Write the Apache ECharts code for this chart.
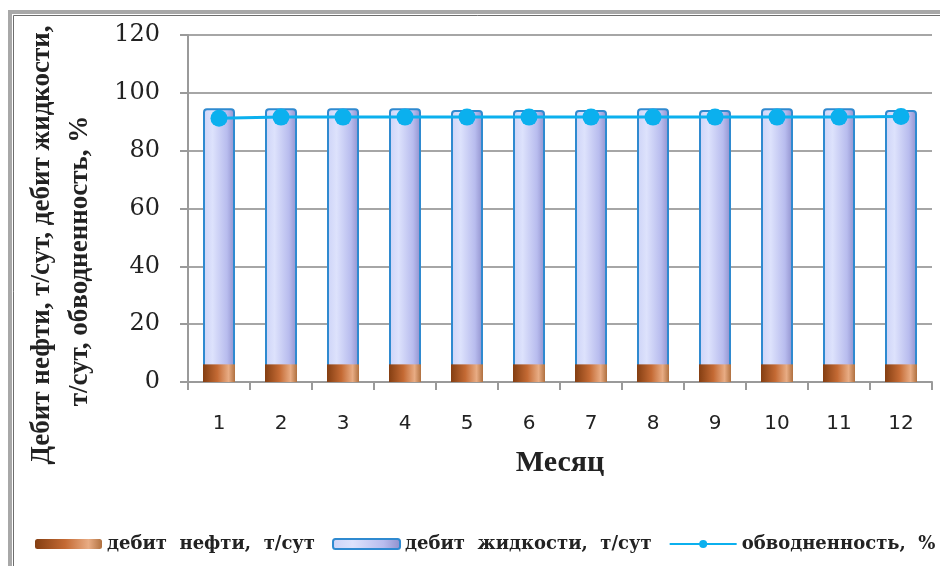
<!DOCTYPE html>
<html>
<head>
<meta charset="utf-8">
<script src="https://cdn.jsdelivr.net/npm/echarts@6/dist/echarts.min.js"></script>
<style>
  html, body { margin: 0; padding: 0; background: #fff; }
  #chart { width: 940px; height: 566px; }
</style>
</head>
<body>
<div id="chart"></div>
<script>
// данные по месяцам
var months = ['1', '2', '3', '4', '5', '6', '7', '8', '9', '10', '11', '12'];
var oilRate = [6.1, 6.1, 6.1, 6.1, 6.1, 6.1, 6.1, 6.1, 6.1, 6.1, 6.1, 6.1];           // дебит нефти
var liquidRate = [94.7, 94.7, 94.7, 94.7, 94.1, 94.1, 94.1, 94.7, 94.1, 94.7, 94.7, 94.1]; // дебит жидкости
var waterCut = [91.2, 91.6, 91.6, 91.6, 91.6, 91.6, 91.6, 91.6, 91.6, 91.6, 91.6, 91.8];  // обводненность
var yTicks = [0, 20, 40, 60, 80, 100, 120];

var myChart = echarts.init(document.getElementById('chart'));

var oilColor = new echarts.graphic.LinearGradient(0, 0, 1, 0, [
    {offset: 0, color: '#843e12'},
    {offset: 0.45, color: '#c46a34'},
    {offset: 0.8, color: '#e8ac84'},
    {offset: 1, color: '#b0703f'}
]);
var liquidColor = new echarts.graphic.LinearGradient(0, 0, 1, 0, [
    {offset: 0, color: '#cdd3f7'},
    {offset: 0.3, color: '#dde2fc'},
    {offset: 0.75, color: '#b8bcee'},
    {offset: 1, color: '#8f8fcc'}
]);

var titleFont = 'bold 27px "Liberation Serif"';

var option = {
    backgroundColor: '#fff',
    animation: false,
    grid: {
        left: 188,
        right: 8,
        top: 35,
        bottom: 184
    },
    graphic: [
        {
            type: 'rect',
            shape: {x: 10, y: 12, width: 960, height: 600},
            style: {fill: 'none', stroke: '#a8a8a8', lineWidth: 4}
        },
        {
            type: 'rect',
            shape: {x: 13.5, y: 15.5, width: 960, height: 600},
            style: {fill: 'none', stroke: '#6e6e6e', lineWidth: 1}
        },
        {
            type: 'text',
            x: 42,
            y: 245,
            rotation: Math.PI / 2,
            style: {
                text: 'Дебит нефти, т/сут, дебит жидкости,',
                font: titleFont,
                fill: '#222',
                align: 'center',
                verticalAlign: 'middle'
            }
        },
        {
            type: 'text',
            x: 80,
            y: 261,
            rotation: Math.PI / 2,
            style: {
                text: 'т/сут, обводненность, %',
                font: titleFont,
                fill: '#222',
                align: 'center',
                verticalAlign: 'middle'
            }
        }
    ],
    legend: {
        top: 530,
        left: 30,
        width: 1200,
        itemWidth: 67,
        itemHeight: 10,
        itemGap: 17,
        textStyle: {
            fontFamily: 'DejaVu Serif',
            fontWeight: 'bold',
            fontSize: 18,
            color: '#222'
        },
        data: [
            {name: 'дебит  нефти,  т/сут', icon: 'roundRect'},
            {name: 'дебит  жидкости,  т/сут', icon: 'roundRect'},
            {name: 'обводненность,  %'}
        ]
    },
    xAxis: {
        type: 'category',
        data: months,
        name: 'Месяц',
        nameLocation: 'middle',
        nameGap: 66,
        nameTextStyle: {
            fontFamily: 'Liberation Serif',
            fontWeight: 'bold',
            fontSize: 30,
            color: '#222'
        },
        axisLine: {lineStyle: {color: '#9a9a9a', width: 2}},
        axisTick: {show: true, length: 8, lineStyle: {color: '#9a9a9a', width: 2}},
        axisLabel: {
            margin: 32,
            fontFamily: 'DejaVu Sans',
            fontSize: 20,
            color: '#222'
        }
    },
    yAxis: {
        type: 'value',
        min: 0,
        max: 120,
        interval: 20,
        axisLine: {show: true, lineStyle: {color: '#9a9a9a', width: 2}},
        axisTick: {show: true, length: 8, lineStyle: {color: '#9a9a9a', width: 2}},
        splitLine: {lineStyle: {color: '#a6a6a6', width: 2}},
        axisLabel: {
            margin: 28,
            fontFamily: 'DejaVu Serif',
            fontSize: 24,
            color: '#222',
            formatter: function (v) { return yTicks.indexOf(v) >= 0 ? String(v) : ''; }
        }
    },
    series: [
        {
            name: 'дебит  жидкости,  т/сут',
            type: 'bar',
            data: liquidRate,
            barWidth: 32,
            barGap: '-100%',
            itemStyle: {
                color: liquidColor,
                borderColor: '#2f8ad0',
                borderWidth: 2,
                borderRadius: [3, 3, 0, 0]
            },
            z: 2
        },
        {
            name: 'дебит  нефти,  т/сут',
            type: 'bar',
            data: oilRate,
            barWidth: 32,
            barGap: '-100%',
            itemStyle: {
                color: oilColor
            },
            z: 3
        },
        {
            name: 'обводненность,  %',
            type: 'line',
            data: waterCut,
            symbol: 'circle',
            symbolSize: 17,
            lineStyle: {color: '#0bb0ee', width: 3},
            itemStyle: {color: '#0bb0ee'},
            z: 5
        }
    ]
};
myChart.setOption(option);
</script>
</body>
</html>
